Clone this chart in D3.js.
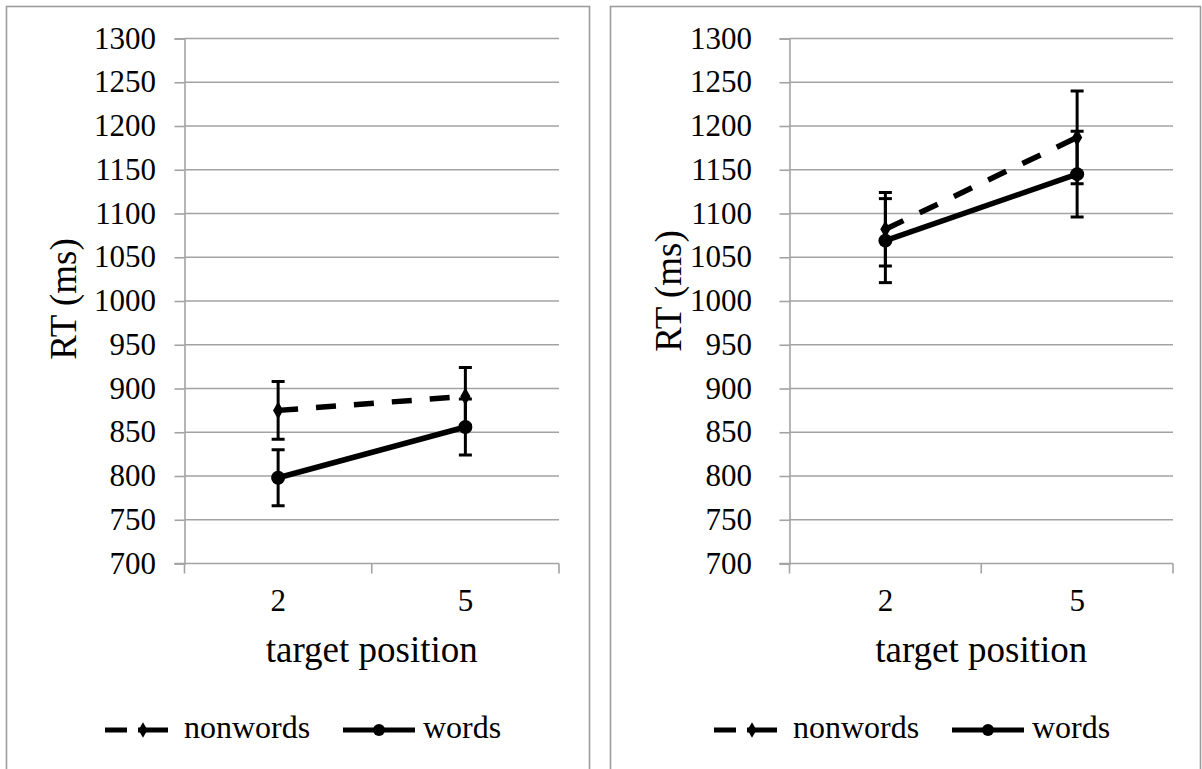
<!DOCTYPE html>
<html>
<head>
<meta charset="utf-8">
<script src="https://cdn.jsdelivr.net/npm/d3@7/dist/d3.min.js"></script>
<style>
  html, body { margin: 0; padding: 0; background: #fff; }
  svg { display: block; }
  text { font-family: "Liberation Serif", "Times New Roman", serif; fill: #000; }
</style>
</head>
<body>
<svg id="chart" width="1202" height="769"></svg>
<script>
// ---- data ----
const categories = ["2", "5"];
const yTickValues = [700, 750, 800, 850, 900, 950, 1000, 1050, 1100, 1150, 1200, 1250, 1300];
const seriesNames = ["nonwords", "words"];

// left panel
const leftNonwords = [875, 891];
const leftNonwordsErr = [33, 33];
const leftWords = [798, 856];
const leftWordsErr = [32, 32];

// right panel
const rightNonwords = [1082, 1187];
const rightNonwordsErr = [42, 53];
const rightWords = [1069, 1145];
const rightWordsErr = [48, 49];

const xTitle = "target position";
const yTitle = "RT (ms)";

// ---- layout ----
const svg = d3.select("#chart");
const gridColor = "#a3a3a3";

const panels = [
  { frame: [6.5, 6.5, 583, 820], x0: 184.5, x1: 559, labelRight: 156, yTitleX: 63, yTitleY: 299, legendX: 105,
    nonwords: leftNonwords, nonwordsErr: leftNonwordsErr, words: leftWords, wordsErr: leftWordsErr },
  { frame: [610.5, 6.5, 590, 820], x0: 789.5, x1: 1173, labelRight: 752, yTitleX: 668, yTitleY: 291, legendX: 714,
    nonwords: rightNonwords, nonwordsErr: rightNonwordsErr, words: rightWords, wordsErr: rightWordsErr }
];

const yTop = 38.5, yBottom = 563.5;

panels.forEach(p => {
  const g = svg.append("g");
  // frame
  g.append("rect")
    .attr("x", p.frame[0]).attr("y", p.frame[1])
    .attr("width", p.frame[2]).attr("height", p.frame[3])
    .attr("fill", "#fff").attr("stroke", "#9c9c9c").attr("stroke-width", 1.6);

  const x = d3.scaleBand().domain(categories).range([p.x0, p.x1]).padding(0);
  const y = d3.scaleLinear().domain([700, 1300]).range([yBottom, yTop]);
  const cx = c => x(c) + x.bandwidth() / 2;

  // gridlines
  g.append("g").selectAll("line").data(yTickValues.filter(v => v !== 700)).join("line")
    .attr("x1", p.x0).attr("x2", p.x1)
    .attr("y1", d => y(d)).attr("y2", d => y(d))
    .attr("stroke", gridColor).attr("stroke-width", 1.6);

  // y axis
  const yAxis = d3.axisLeft(y).tickValues(yTickValues).tickSize(10).tickFormat("");
  const ya = g.append("g").attr("transform", `translate(${p.x0},0)`).call(yAxis);
  ya.selectAll("path, line").attr("stroke", gridColor).attr("stroke-width", 1.6);

  // y tick labels
  g.append("g").selectAll("text").data(yTickValues).join("text")
    .attr("x", p.labelRight).attr("y", d => y(d) + 10)
    .attr("text-anchor", "end").attr("font-size", 31)
    .text(d => d);

  // x axis
  const xa = g.append("g").attr("transform", `translate(0,${yBottom})`)
    .call(d3.axisBottom(x).tickSize(0).tickFormat(""));
  xa.select(".domain").remove();
  xa.selectAll(".tick").remove();
  xa.append("line").attr("x1", p.x0 - 10).attr("x2", p.x1).attr("y1", 0).attr("y2", 0)
    .attr("stroke", gridColor).attr("stroke-width", 1.6);
  const bounds = [p.x0, ...categories.slice(1).map(c => x(c)), p.x1];
  xa.selectAll(".xt").data(bounds).join("line").attr("class", "xt")
    .attr("x1", d => d).attr("x2", d => d).attr("y1", 0).attr("y2", 10)
    .attr("stroke", gridColor).attr("stroke-width", 1.6);

  // x tick labels
  g.append("g").selectAll("text").data(categories).join("text")
    .attr("x", d => cx(d)).attr("y", 611)
    .attr("text-anchor", "middle").attr("font-size", 31)
    .text(d => d);

  // titles
  g.append("text").attr("x", (p.x0 + p.x1) / 2).attr("y", 662)
    .attr("text-anchor", "middle").attr("font-size", 37).text(xTitle);
  g.append("text")
    .attr("transform", `translate(${p.yTitleX},${p.yTitleY}) rotate(-90)`)
    .attr("text-anchor", "middle").attr("dominant-baseline", "central")
    .attr("font-size", 37).text(yTitle);

  // series
  const series = [
    { name: seriesNames[0], vals: p.nonwords, err: p.nonwordsErr, dash: "20,18", width: 5.5, marker: "diamond" },
    { name: seriesNames[1], vals: p.words, err: p.wordsErr, dash: null, width: 5.5, marker: "circle" }
  ];

  series.forEach(s => {
    const pts = categories.map((c, i) => ({ c, v: s.vals[i], e: s.err[i] }));
    // error bars
    const eb = g.append("g");
    eb.selectAll(".ev").data(pts).join("line").attr("class", "ev")
      .attr("x1", d => cx(d.c)).attr("x2", d => cx(d.c))
      .attr("y1", d => y(d.v + d.e)).attr("y2", d => y(d.v - d.e))
      .attr("stroke", "#000").attr("stroke-width", 3);
    eb.selectAll(".ct").data(pts).join("line").attr("class", "ct")
      .attr("x1", d => cx(d.c) - 6.5).attr("x2", d => cx(d.c) + 6.5)
      .attr("y1", d => y(d.v + d.e)).attr("y2", d => y(d.v + d.e))
      .attr("stroke", "#000").attr("stroke-width", 3);
    eb.selectAll(".cb").data(pts).join("line").attr("class", "cb")
      .attr("x1", d => cx(d.c) - 6.5).attr("x2", d => cx(d.c) + 6.5)
      .attr("y1", d => y(d.v - d.e)).attr("y2", d => y(d.v - d.e))
      .attr("stroke", "#000").attr("stroke-width", 3);
    // line
    const line = d3.line().x(d => cx(d.c)).y(d => y(d.v));
    const path = g.append("path").datum(pts).attr("d", line)
      .attr("fill", "none").attr("stroke", "#000").attr("stroke-width", s.width);
    if (s.dash) path.attr("stroke-dasharray", s.dash);
    // markers
    if (s.marker === "circle") {
      g.append("g").selectAll("circle").data(pts).join("circle")
        .attr("cx", d => cx(d.c)).attr("cy", d => y(d.v)).attr("r", 7).attr("fill", "#000");
    } else {
      g.append("g").selectAll("path").data(pts).join("path")
        .attr("transform", d => `translate(${cx(d.c)},${y(d.v)})`)
        .attr("d", d3.symbol().type(d3.symbolDiamond).size(90)).attr("fill", "#000");
    }
  });

  // legend
  const ly = 730;
  const lg = g.append("g").attr("transform", `translate(${p.legendX},0)`);
  lg.append("line").attr("x1", 0).attr("x2", 63).attr("y1", ly).attr("y2", ly)
    .attr("stroke", "#000").attr("stroke-width", 5).attr("stroke-dasharray", "22,11,30");
  lg.append("path").attr("transform", `translate(38,${ly})`)
    .attr("d", d3.symbol().type(d3.symbolDiamond).size(70)).attr("fill", "#000");
  lg.append("text").attr("x", 79).attr("y", 738).attr("font-size", 32).text(seriesNames[0]);
  lg.append("line").attr("x1", 238).attr("x2", 310).attr("y1", ly).attr("y2", ly)
    .attr("stroke", "#000").attr("stroke-width", 5);
  lg.append("circle").attr("cx", 274).attr("cy", ly).attr("r", 6).attr("fill", "#000");
  lg.append("text").attr("x", 318).attr("y", 738).attr("font-size", 32).text(seriesNames[1]);
});
</script>
</body>
</html>
